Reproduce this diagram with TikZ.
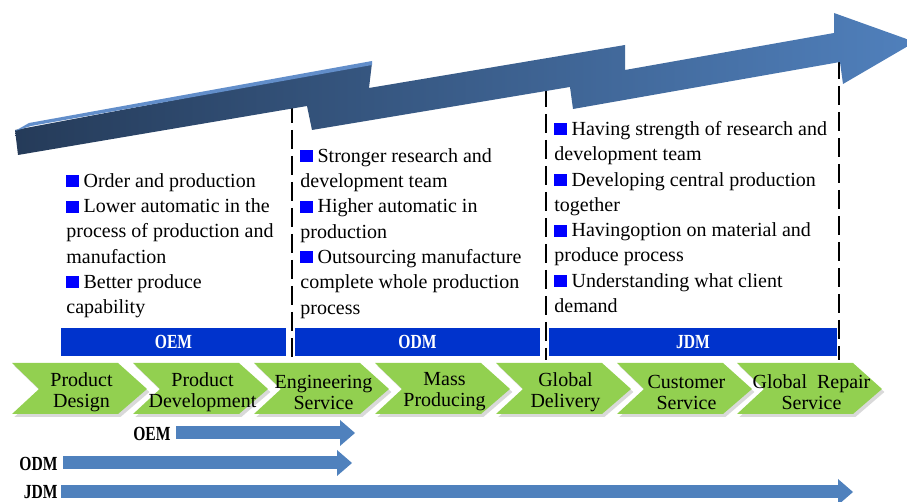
\documentclass[tikz,border=0pt]{standalone}
\usepackage{fontspec}
\setmainfont{Liberation Serif}
\newfontfamily\tagfont[FakeStretch=0.78]{Liberation Serif}
\usetikzlibrary{arrows.meta,shadows}
\definecolor{arrowdark}{RGB}{37,59,89}
\definecolor{arrowlight}{RGB}{80,128,188}
\definecolor{bevel}{RGB}{98,142,202}
\definecolor{barblue}{RGB}{0,51,204}
\definecolor{bulletblue}{RGB}{0,0,255}
\definecolor{stagegreen}{RGB}{146,208,80}
\definecolor{flowblue}{RGB}{79,129,189}
\newcommand{\blt}{\textcolor{bulletblue}{\rule{6.4pt}{6pt}}\hspace{2.2pt}}

\tikzset{
  sepline/.style={black, line width=1.3pt, dash pattern=on 9.5pt off 3.5pt},
  modelbar/.style={fill=barblue, text=white, inner sep=0pt, minimum height=14pt,
    font=\tagfont\bfseries\fontsize{10}{12}\selectfont},
  notes/.style={anchor=north west, align=left, inner sep=0pt,
    font=\fontsize{10}{12.65}\selectfont},
  stage/.style={fill=stagegreen, drop shadow={shadow xshift=1.2pt, shadow yshift=-1.5pt, opacity=.3}},
  stagetext/.style={align=center, inner sep=0pt, font=\fontsize{10}{10.5}\selectfont},
  flow/.style={flowblue, line width=6.5pt, -{Triangle[length=7.5pt,width=13pt,line width=0pt]}},
  tag/.style={anchor=east, inner sep=0pt, font=\tagfont\bfseries\fontsize{10}{12}\selectfont},
}

\begin{document}
\begin{tikzpicture}[x=0.5pt, y=-0.5pt]
  \useasboundingbox (0,0) rectangle (907,502);

  % column separators
  \draw[sepline] (292,104) -- (292,360);
  \draw[sepline] (546,88) -- (546,360);
  \draw[sepline] (839,60) -- (839,360);

  % stepped arrow on top
  \shade[left color=arrowdark, right color=arrowlight]
    (15,130) -- (372,63) -- (369,88) -- (625,45) -- (625,70) -- (834,33)
    -- (834,13) -- (915,42) -- (843,84) -- (840,62) -- (573,109) -- (570,87)
    -- (312,130) -- (307,106) -- (18,155) -- cycle;
  \fill[bevel] (15,131) -- (29,123) -- (372,61) -- (372,65) -- (31,126) -- cycle;

  % what each model covers
  \node[notes] (oemnotes) at (66,173) {\blt Order and production\\
    \blt Lower automatic in the\\ process of production and\\ manufaction\\
    \blt Better produce\\ capability};
  \node[notes] (odmnotes) at (300,148) {\blt Stronger research and\\
    development team\\ \blt Higher automatic in\\ production\\
    \blt Outsourcing manufacture\\ complete whole production\\ process};
  \node[notes] (jdmnotes) at (554,121) {\blt Having strength of research and\\
    development team\\ \blt Developing central production\\ together\\
    \blt Havingoption on material and\\ produce process\\
    \blt Understanding what client\\ demand};

  \node[modelbar, minimum width=112.5pt] (oembar) at (173.5,342) {OEM};
  \node[modelbar, minimum width=122.5pt] (odmbar) at (417.5,342) {ODM};
  \node[modelbar, minimum width=144pt] (jdmbar) at (693,342) {JDM};

  % value chain
  \foreach \x/\w/\name/\txt in {12/135/design/{Product\\Design},
      133/135/develop/{Product\\Development}, 254/135/engineer/{Engineering\\Service},
      375/135/mass/{Mass\\Producing}, 496/135/delivery/{Global\\Delivery},
      617/135/custom/{Customer\\Service}, 737/145/repair/{Global~ Repair\\Service}}{
    \fill[stage] (\x,363) -- ++(\w-29,0) -- ++(29,26) -- ++(-29,25)
      -- ++(-\w+29,0) -- ++(27,-25) -- cycle;
    \node[stagetext] (\name) at (\x+\w/2+2,392) {\txt};
  }

  % coverage of each model
  \node[tag] (oemtag) at (171,434) {OEM};
  \node[tag] (odmtag) at (58,464) {ODM};
  \node[tag] (jdmtag) at (58,492) {JDM};
  \coordinate (oemend) at (355,433);
  \coordinate (odmend) at (352,463);
  \coordinate (jdmend) at (853,492);
  \draw[flow] ([xshift=2.5pt]oemtag.east |- oemend) -- (oemend);
  \draw[flow] ([xshift=2.5pt]odmtag.east |- odmend) -- (odmend);
  \draw[flow] ([xshift=1.5pt]jdmtag.east |- jdmend) -- (jdmend);
\end{tikzpicture}
\end{document}
